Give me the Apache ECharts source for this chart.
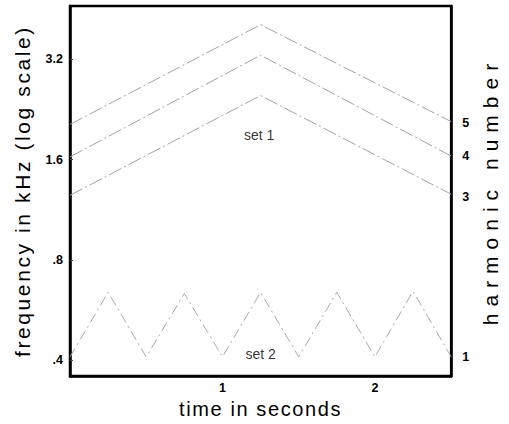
<!DOCTYPE html>
<html><head><meta charset="utf-8">
<style>html,body{margin:0;padding:0;background:#fff}#c{width:509px;height:424px}</style>
<script src="https://cdn.jsdelivr.net/npm/echarts@6/dist/echarts.min.js"></script>
</head><body><div id="c"></div>
<script>
// ---- data ----
const timeTicks = [1, 2];
const freqTicks = [0.4, 0.8, 1.6, 3.2];
const harmonicTicks = [1, 3, 4, 5];
const timeRange = [0, 2.5];
const freqRange = [0.359, 4.62];        // kHz, axis extent
const fundamentalRef = 0.411;           // kHz of harmonic 1 on the right axis

const set1Times = [0, 1.25, 2.5];
const set1H3 = [1.25, 2.49, 1.26];
const set1H4 = [1.63, 3.29, 1.64];
const set1H5 = [2.04, 4.06, 2.08];

const set2Times = [0, 0.25, 0.5, 0.75, 1.0, 1.25, 1.5, 1.75, 2.0, 2.25, 2.5];
const set2Freq  = [0.41, 0.64, 0.41, 0.635, 0.41, 0.64, 0.41, 0.64, 0.41, 0.645, 0.41];

const labelTexts = ['set 1', 'set 2'];
const labelTimes = [1.24, 1.25];
const labelFreqs = [1.89, 0.417];

// ---- chart ----
const L2 = Math.log2;
const pts = (xs, ys) => xs.map((x, i) => [x, L2(ys[i])]);
const fmtFreq = v => { const f = Math.round(Math.pow(2, v) * 10) / 10; return String(f).replace(/^0\./, '.'); };
const lineStyle = { color: '#a3a3a3', width: 1, type: [14, 3, 2, 3] };
const FONT = "'Liberation Sans', Arial, sans-serif";
const tickLabel = { fontFamily: FONT, fontWeight: 'bold', fontSize: 12.5, color: '#000' };
const axisLine = { show: true, onZero: false, lineStyle: { color: '#000', width: 2.5 } };

const chart = echarts.init(document.getElementById('c'), null, { renderer: 'svg' });
chart.setOption({
  animation: false,
  backgroundColor: '#fff',
  grid: { left: 70, right: 50, top: 6, bottom: 43, show: true, borderColor: '#000', borderWidth: 2.5, backgroundColor: 'transparent' },
  xAxis: {
    type: 'value', min: timeRange[0], max: timeRange[1],
    name: 'time in seconds', nameLocation: 'middle', nameGap: 17,
    nameTextStyle: { fontFamily: FONT, fontSize: 20, color: '#000', verticalAlign: 'top' },
    axisLine, splitLine: { show: false },
    axisTick: { show: false },
    axisLabel: Object.assign({ customValues: timeTicks, margin: 5, formatter: v => String(v) }, tickLabel)
  },
  yAxis: [{
    type: 'value', min: L2(freqRange[0]), max: L2(freqRange[1]), position: 'left',
    name: 'frequency in kHz (log scale)', nameLocation: 'middle', nameRotate: 90, nameGap: 37,
    nameTextStyle: { fontFamily: FONT, fontSize: 21, color: '#000' },
    axisLine, splitLine: { show: false },
    axisTick: { show: true, inside: true, length: 3, customValues: freqTicks.map(L2), lineStyle: { color: '#444' } },
    axisLabel: Object.assign({ customValues: freqTicks.map(L2), margin: 7, formatter: fmtFreq }, tickLabel)
  }, {
    type: 'value', min: L2(freqRange[0] / fundamentalRef), max: L2(freqRange[1] / fundamentalRef), position: 'right',
    name: 'harmonic number', nameLocation: 'middle', nameRotate: 90, nameGap: 25,
    nameTextStyle: { fontFamily: FONT, fontSize: 21, color: '#000' },
    axisLine, splitLine: { show: false },
    axisTick: { show: false },
    axisLabel: Object.assign({ customValues: harmonicTicks.map(L2), margin: 11, formatter: v => String(Math.round(Math.pow(2, v))) }, tickLabel)
  }],
  series: [
    { name: 'harmonic 3', type: 'line', data: pts(set1Times, set1H3), showSymbol: false, lineStyle },
    { name: 'harmonic 4', type: 'line', data: pts(set1Times, set1H4), showSymbol: false, lineStyle },
    { name: 'harmonic 5', type: 'line', data: pts(set1Times, set1H5), showSymbol: false, lineStyle },
    { name: 'set 2', type: 'line', data: pts(set2Times, set2Freq), showSymbol: false, lineStyle: { color: '#aaaaaa', width: 1, type: [10, 4, 2, 4] } },
    { name: 'labels', type: 'scatter', symbolSize: 0, silent: true,
      data: labelTexts.map((t, i) => ({ name: t, value: [labelTimes[i], L2(labelFreqs[i])] })),
      label: { show: true, position: 'inside', formatter: p => p.name, fontFamily: FONT, fontSize: 14, color: '#000' } }
  ]
});

// letter-spaced axis titles, as in the reference
const spacing = { 'frequency in kHz (log scale)': '2.6px', 'harmonic number': '7px', 'time in seconds': '1.6px' };
function applySpacing() {
  document.querySelectorAll('#c text').forEach(t => {
    const s = spacing[t.textContent];
    if (s) t.style.letterSpacing = s;
  });
}
chart.on('finished', applySpacing);
setTimeout(applySpacing, 50);
</script></body></html>
